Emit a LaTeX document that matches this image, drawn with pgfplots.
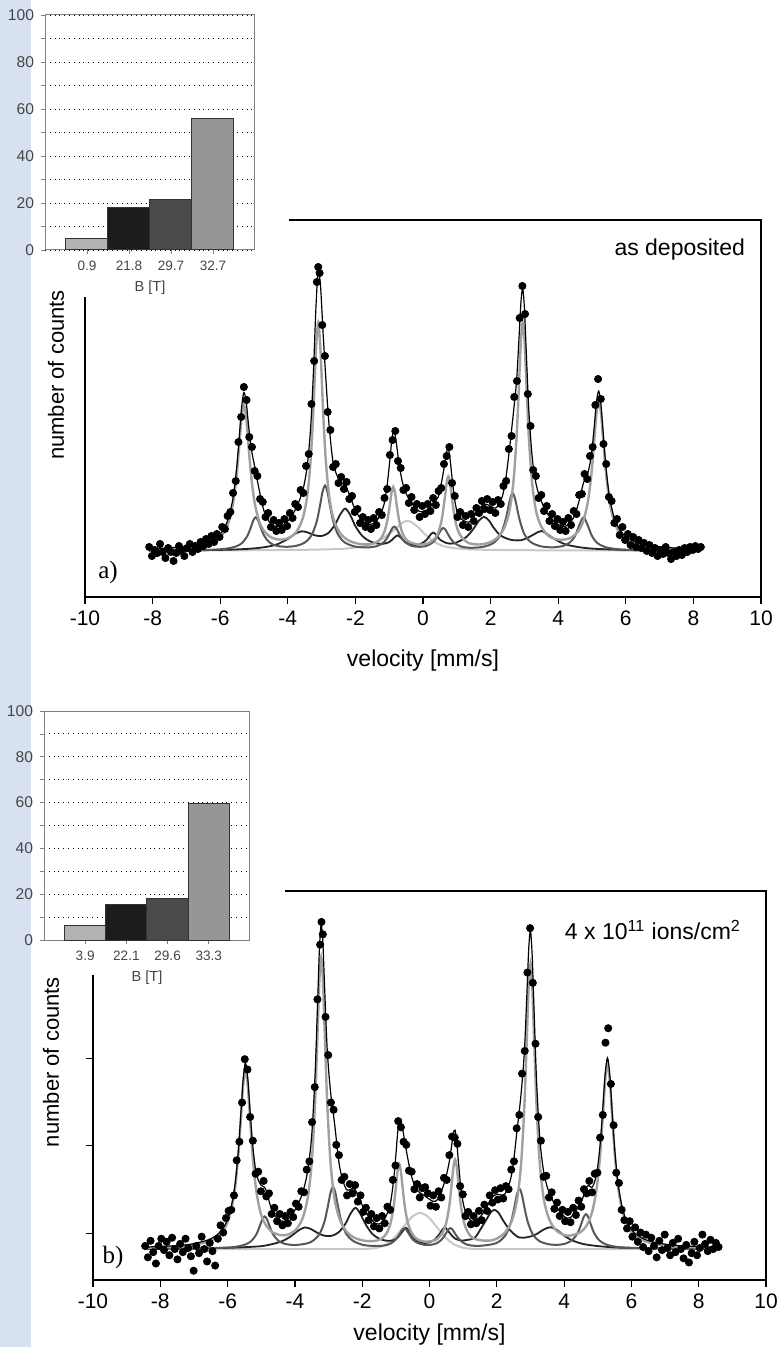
\documentclass[border=0pt]{standalone}
\usepackage{pgfplots}
\pgfplotsset{compat=1.18}
\usepackage{fontspec}
\setmainfont{Liberation Sans}
\newfontfamily\tnr{Liberation Serif}

\definecolor{stripBlue}{RGB}{215,225,240}
\definecolor{gMain}{RGB}{160,160,160}
\definecolor{gLight}{RGB}{200,200,200}
\definecolor{gDark}{RGB}{88,88,88}
\definecolor{gBlack}{RGB}{35,35,35}
\definecolor{barA}{RGB}{178,178,178}
\definecolor{barB}{RGB}{28,28,28}
\definecolor{barC}{RGB}{74,74,74}
\definecolor{barD}{RGB}{150,150,150}
\definecolor{insetTxt}{RGB}{70,70,70}
\definecolor{insetFrame}{RGB}{128,128,128}

\newcommand\fs[1]{\fontsize{#1}{#1}\selectfont}

\pgfplotsset{
  spec/.style={scale only axis, anchor=south west,
    xmin=-10, xmax=10, ymin=0, ymax=377,
    axis line style={line width=0.75pt},
    xtick={-10,-8,...,10}, xtick pos=left, ytick=\empty,
    tick align=outside, major tick length=3.5pt,
    tick style={line width=0.6pt, black},
    /pgf/number format/assume math mode=true,
    x tick label style={font=\fs{10.5}},
    xlabel={velocity [mm/s]},
    xlabel style={font=\fs{11.5}, at={(axis description cs:0.5,0)}, anchor=center},
  },
  inset/.style={scale only axis, anchor=south west,
    xmin=-1, xmax=4, ymin=0, ymax=100,
    ytick={0,20,...,100}, minor ytick={10,30,...,90},
    ymajorgrids, yminorgrids,
    major grid style={dotted, black, line width=0.45pt},
    minor grid style={dotted, black, line width=0.45pt},
    axis line style={insetFrame, line width=0.5pt},
    xtick={0,1,2,3}, tick align=outside,
    major tick length=2pt, minor tick length=2pt,
    tick style={insetFrame, line width=0.4pt},
    xtick pos=left, ytick pos=left,
    /pgf/number format/assume math mode=true,
    y tick label style={font=\fs{7.8}, text=insetTxt},
    x tick label style={font=\fs{6.8}, text=insetTxt},
    xlabel={B [T]},
    xlabel style={font=\fs{7.3}, text=insetTxt, at={(axis description cs:0.5,0)}, anchor=center, yshift=-19pt},
  },
  sbar/.style={ybar, bar width=1, draw=black!80, line width=0.5pt, fill=#1},
  pts/.style={only marks, mark=*, mark size=1.8pt, black},
}

\begin{document}
\begin{tikzpicture}
\path[use as bounding box] (0,0) rectangle (388.5pt,-673.5pt);
\fill[white] (0,0) rectangle (388.5pt,-673.5pt);
\fill[stripBlue] (0,0) rectangle (15.5pt,-673.5pt);

% ---------------- panel a ----------------
\begin{axis}[spec, at={(42.5pt,-298.5pt)}, width=338pt, height=188.5pt,
  xlabel style={yshift=-32pt}]
\addplot[gLight, line width=1pt, smooth] coordinates {(-8.1,46.3)(-4,47)(-2.5,48)(-2,49.5)(-1.6,52)(-1.3,56)(-1.05,62)(-0.85,67)(-0.65,73)(-0.5,76)(-0.35,75)(-0.15,70)(0.05,63)(0.3,56)(0.55,51.5)(0.9,49)(1.5,47.5)(3,46.8)(8.2,46.3)};
\addplot[gBlack, line width=0.9pt, smooth] coordinates {(-8.1,46.4)(-7,46.6)(-6,47.1)(-5.5,47.6)(-5,48.6)(-4.6,50.3)(-4.3,52.9)(-4,58)(-3.8,62.8)(-3.6,65.7)(-3.4,64.4)(-3.2,61.7)(-3,61)(-2.8,64)(-2.6,72.5)(-2.45,82.5)(-2.3,88.4)(-2.15,81.8)(-2,70.9)(-1.8,61.2)(-1.6,56.2)(-1.4,53.8)(-1.2,53.1)(-1,54.9)(-0.85,59.4)(-0.75,61.6)(-0.65,59.1)(-0.5,54.4)(-0.3,52.1)(-0.1,52.7)(0.1,56.9)(0.2,61.4)(0.3,64.5)(0.4,61.7)(0.5,57.4)(0.7,53.9)(0.9,53.5)(1.1,56.2)(1.3,60.5)(1.5,68.5)(1.65,76.1)(1.8,80.2)(1.95,76.5)(2.1,68.9)(2.3,61.4)(2.6,57.2)(2.9,56.8)(3.1,59.3)(3.3,63)(3.5,66)(3.7,62.3)(3.9,57.8)(4.2,52.8)(4.6,49.9)(5,48.4)(5.5,47.6)(6,47.1)(7,46.5)(8.2,46.3)};
\addplot[gDark, line width=1pt, smooth] coordinates {(-8.1,46.3)(-7,46.6)(-6.2,47.3)(-5.75,48.7)(-5.5,51)(-5.35,54.1)(-5.2,60.9)(-5.1,69)(-5.02,76.6)(-4.95,79.7)(-4.88,76.7)(-4.8,69.3)(-4.7,61.4)(-4.55,54.8)(-4.35,51.4)(-4.05,50.2)(-3.75,51.2)(-3.5,54.4)(-3.3,61.7)(-3.15,74.8)(-3.05,90.9)(-2.97,105.5)(-2.9,111.5)(-2.83,105.7)(-2.75,90.9)(-2.65,74.8)(-2.5,61.6)(-2.3,54.2)(-2,50.4)(-1.65,49.6)(-1.35,51)(-1.15,55.1)(-1.02,61.4)(-0.92,68.2)(-0.85,70.3)(-0.78,68.2)(-0.68,61.7)(-0.55,55.4)(-0.35,51.3)(-0.1,50.2)(0.1,51.1)(0.3,54.9)(0.43,60.9)(0.53,67)(0.6,69)(0.67,67)(0.77,60.9)(0.9,54.9)(1.1,50.8)(1.4,49.2)(1.8,50.3)(2.1,54.4)(2.3,62.9)(2.45,78)(2.57,97.1)(2.65,103.9)(2.73,97.3)(2.85,78.4)(3,62.6)(3.2,54.6)(3.5,50.6)(3.85,49.7)(4.15,51.1)(4.35,54.7)(4.5,61.2)(4.63,72.2)(4.75,79.7)(4.87,72)(5,61)(5.15,54.2)(5.4,49.8)(5.8,47.7)(6.5,46.7)(8.2,46.2)};
\addplot[gMain, line width=1.2pt, smooth] coordinates {(-8.1,47.2)(-7.4,48)(-6.8,49.5)(-6.4,52.2)(-6.1,56.9)(-5.9,63.9)(-5.75,74.9)(-5.62,93.5)(-5.52,119.5)(-5.44,150)(-5.37,178.7)(-5.3,192.1)(-5.23,178.9)(-5.16,150.3)(-5.08,120)(-4.98,94.2)(-4.85,76)(-4.7,65.9)(-4.5,59.8)(-4.25,57.4)(-4,58.7)(-3.75,64.9)(-3.55,79.5)(-3.42,102.5)(-3.32,138.8)(-3.24,189)(-3.17,244.8)(-3.1,274.4)(-3.03,245)(-2.96,189)(-2.88,138.5)(-2.78,101.8)(-2.65,78.5)(-2.45,63.7)(-2.2,56.5)(-1.9,53.2)(-1.6,52.6)(-1.4,54.4)(-1.25,58.4)(-1.14,65.4)(-1.05,77.4)(-0.98,92.6)(-0.93,104.5)(-0.88,110)(-0.83,104.5)(-0.78,92.6)(-0.71,77.2)(-0.62,65)(-0.51,57.8)(-0.36,54.4)(-0.1,52.3)(0.15,53.8)(0.36,59)(0.47,66.3)(0.56,78.4)(0.65,100.3)(0.7,114.1)(0.75,120.6)(0.8,114.3)(0.85,100.6)(0.94,78.9)(1.03,66.9)(1.14,59.9)(1.35,54)(1.65,52.5)(1.95,54.4)(2.2,59.4)(2.4,68.8)(2.55,85)(2.67,113.3)(2.77,160.7)(2.85,220.7)(2.9,258.3)(2.95,274.8)(3,258.3)(3.05,220.8)(3.13,160.8)(3.23,113.5)(3.35,85.3)(3.5,70.5)(3.7,61.5)(3.95,57.6)(4.2,57.5)(4.4,59.8)(4.6,66)(4.75,76.9)(4.88,95.7)(4.98,122.2)(5.06,153.6)(5.13,182.8)(5.2,196.5)(5.27,182.6)(5.34,153.3)(5.42,121.8)(5.52,95)(5.65,76)(5.8,64.8)(6,57.4)(6.3,52.5)(6.7,49.7)(7.3,48)(8.2,47.1)};
\addplot[black, line width=0.6pt, smooth] coordinates {(-8.1,48.2)(-7.4,49.4)(-6.8,51.5)(-6.4,54.8)(-6.1,60)(-5.9,67.7)(-5.75,79.5)(-5.62,99.3)(-5.52,126.7)(-5.44,158.3)(-5.37,188.7)(-5.3,204.5)(-5.23,194.8)(-5.16,171.1)(-5.08,148.2)(-4.98,130.6)(-4.85,107.8)(-4.7,85.6)(-4.5,73.1)(-4.25,70.4)(-4,75.9)(-3.75,89)(-3.55,107.6)(-3.42,132.5)(-3.32,171.7)(-3.24,226.1)(-3.17,287.9)(-3.1,326.7)(-3.03,310)(-2.96,266.6)(-2.88,221.2)(-2.78,172.4)(-2.65,132.8)(-2.45,115.2)(-2.3,111.6)(-2.15,100)(-2,86.7)(-1.8,76.3)(-1.6,72.4)(-1.4,75)(-1.25,83.4)(-1.14,94.5)(-1.05,115)(-0.98,137.1)(-0.93,154.6)(-0.88,165.3)(-0.83,162.9)(-0.78,151.8)(-0.71,133.7)(-0.62,116.5)(-0.51,104.5)(-0.36,94.9)(-0.1,85.5)(0.15,87.7)(0.3,94.1)(0.45,99.9)(0.55,115.2)(0.65,134.3)(0.7,145.3)(0.75,147.8)(0.8,138.3)(0.85,122.1)(0.94,96.6)(1.03,82.8)(1.14,77.8)(1.35,74.8)(1.5,80.1)(1.65,87.5)(1.8,92.8)(1.95,91.8)(2.1,89)(2.2,90.4)(2.35,101)(2.45,118.4)(2.55,145.6)(2.67,182.7)(2.77,217.2)(2.85,265)(2.9,296.1)(2.95,308.5)(3,288.9)(3.05,249.3)(3.13,187.6)(3.23,139.9)(3.35,112.2)(3.5,95.9)(3.7,82.3)(3.95,73.6)(4.2,70.5)(4.45,78.9)(4.6,93.8)(4.75,114.4)(4.88,124.2)(4.98,141.7)(5.06,168.1)(5.13,194.2)(5.2,205.9)(5.27,190.5)(5.34,160)(5.42,127.5)(5.52,100)(5.65,80.1)(5.8,68.3)(6,60.3)(6.3,54.7)(6.7,51.4)(7.3,49.3)(8.2,47.9)};
\addplot[pts] coordinates {(-8.10,50)(-8.02,41)(-7.94,47)(-7.86,44)(-7.78,53)(-7.70,45)(-7.62,39)(-7.54,49)(-7.46,45)(-7.38,36)(-7.30,44)(-7.22,51)(-7.14,46)(-7.06,41)(-6.98,49)(-6.90,53)(-6.82,45)(-6.74,51)(-6.66,48)(-6.58,55)(-6.50,51)(-6.42,58)(-6.34,53)(-6.26,61)(-6.18,55)(-6.10,63)(-6.02,60)(-5.94,70)(-5.86,68)(-5.78,81)(-5.70,85)(-5.62,104)(-5.54,116)(-5.46,155)(-5.38,180)(-5.30,210)(-5.22,197)(-5.14,160)(-5.06,150)(-4.98,126)(-4.90,121)(-4.82,98)(-4.74,95)(-4.66,80)(-4.58,84)(-4.50,70)(-4.42,77)(-4.34,66)(-4.26,74)(-4.18,67)(-4.10,78)(-4.02,71)(-3.94,84)(-3.86,79)(-3.78,93)(-3.70,90)(-3.62,107)(-3.54,104)(-3.46,131)(-3.38,143)(-3.30,193)(-3.22,236)(-3.14,315)(-3.10,330)(-3.06,324)(-2.98,272)(-2.90,241)(-2.82,185)(-2.74,167)(-2.66,130)(-2.58,133)(-2.50,114)(-2.42,120)(-2.34,108)(-2.26,115)(-2.18,98)(-2.10,101)(-2.02,85)(-1.94,88)(-1.86,74)(-1.78,80)(-1.70,70)(-1.62,77)(-1.54,68)(-1.46,79)(-1.38,72)(-1.30,85)(-1.22,82)(-1.14,99)(-1.06,108)(-0.98,142)(-0.90,157)(-0.82,166)(-0.74,136)(-0.66,129)(-0.58,107)(-0.50,109)(-0.42,94)(-0.34,100)(-0.26,87)(-0.18,93)(-0.10,80)(-0.02,91)(0.06,83)(0.14,93)(0.22,86)(0.30,99)(0.38,92)(0.46,106)(0.54,109)(0.62,133)(0.70,141)(0.78,150)(0.86,114)(0.94,101)(1.02,80)(1.10,85)(1.18,72)(1.26,81)(1.34,70)(1.42,83)(1.50,76)(1.58,89)(1.66,84)(1.74,96)(1.82,88)(1.90,98)(1.98,87)(2.06,95)(2.14,84)(2.22,97)(2.30,93)(2.38,111)(2.46,116)(2.54,148)(2.62,161)(2.70,200)(2.78,216)(2.86,279)(2.94,311)(3.02,283)(3.10,203)(3.18,171)(3.26,127)(3.34,121)(3.42,99)(3.50,102)(3.58,86)(3.66,91)(3.74,76)(3.82,83)(3.90,71)(3.98,78)(4.06,67)(4.14,75)(4.22,66)(4.30,79)(4.38,72)(4.46,86)(4.54,83)(4.62,102)(4.70,103)(4.78,123)(4.86,118)(4.94,141)(5.02,150)(5.10,192)(5.18,218)(5.26,198)(5.34,153)(5.42,133)(5.50,100)(5.58,96)(5.66,74)(5.74,78)(5.82,62)(5.90,70)(5.98,57)(6.06,63)(6.14,52)(6.22,60)(6.30,50)(6.38,57)(6.46,49)(6.54,54)(6.62,46)(6.70,52)(6.78,44)(6.86,49)(6.94,41)(7.02,47)(7.10,43)(7.18,50)(7.26,44)(7.34,38)(7.42,45)(7.50,41)(7.58,47)(7.66,42)(7.74,49)(7.82,45)(7.90,50)(7.98,47)(8.06,51)(8.14,48)(8.22,50)};
\end{axis}

% ---------------- panel b ----------------
\begin{axis}[spec, at={(46.5pt,-640pt)}, width=336.5pt, height=194.5pt,
  ytick={45,130,215,300}, yticklabels={}, ytick pos=left,
  xlabel style={yshift=-27.5pt}]
\addplot[gLight, line width=1pt, smooth] coordinates {(-8.45,30)(-2.5,30)(-1.78,30.4)(-1.53,31.5)(-1.28,34.7)(-1.03,41.4)(-0.78,51.2)(-0.53,60.9)(-0.28,65)(-0.03,60.9)(0.22,51.2)(0.47,41.4)(0.72,34.7)(0.97,31.5)(1.22,30.4)(2,30)(8.6,30)};
\addplot[gBlack, line width=0.9pt, smooth] coordinates {(-8.45,30.4)(-7,30.6)(-6,31.2)(-5.5,31.8)(-5,32.8)(-4.7,34.6)(-4.4,37.4)(-4.15,41.7)(-3.9,47.9)(-3.7,51)(-3.5,49)(-3.3,45.1)(-3.1,42.8)(-2.9,42.9)(-2.7,46.3)(-2.5,54.4)(-2.35,64.1)(-2.2,70)(-2.05,63.8)(-1.9,54.1)(-1.7,44.7)(-1.5,40.2)(-1.3,38.2)(-1.1,38.3)(-0.95,40.9)(-0.82,46.4)(-0.7,50.6)(-0.58,45.9)(-0.45,40)(-0.25,36.3)(-0.05,36.2)(0.15,39)(0.3,44.6)(0.45,50.9)(0.6,45.6)(0.75,40.3)(0.95,38.3)(1.15,39)(1.35,41.1)(1.55,51)(1.7,59.1)(1.82,65.5)(1.93,68)(2.05,65.2)(2.2,57.1)(2.4,48)(2.65,41.4)(2.9,41.4)(3.15,44)(3.4,49)(3.6,51.2)(3.8,48.2)(4.05,41.9)(4.3,37.6)(4.6,34.7)(5,32.9)(5.5,31.6)(6,31.1)(7,30.6)(8.6,30.3)};
\addplot[gDark, line width=1pt, smooth] coordinates {(-8.45,30.3)(-7,30.5)(-6.2,31.2)(-5.8,32)(-5.5,34.1)(-5.3,37.6)(-5.15,44)(-5.05,51.7)(-4.97,58.7)(-4.9,61.6)(-4.83,58.8)(-4.75,52)(-4.65,44.4)(-4.5,38.3)(-4.3,35.1)(-4,33.9)(-3.65,35.4)(-3.47,37.9)(-3.27,44.5)(-3.12,56.7)(-3.02,71.5)(-2.94,84.9)(-2.87,90.4)(-2.8,85.1)(-2.72,71.5)(-2.62,56.7)(-2.47,44.5)(-2.27,37.9)(-1.97,34)(-1.65,33)(-1.35,33.4)(-1.15,35.4)(-1,39.4)(-0.9,44)(-0.82,48.4)(-0.75,50.1)(-0.68,48.3)(-0.6,44.1)(-0.5,39.3)(-0.35,35.9)(-0.15,34.1)(0.05,34.2)(0.22,35.7)(0.37,39.5)(0.47,44.2)(0.55,48.5)(0.62,50.3)(0.69,48.7)(0.77,44.4)(0.87,40)(1.02,35.7)(1.22,33.5)(1.52,33.2)(1.87,34.7)(2.07,37.3)(2.27,44)(2.42,55.9)(2.52,70.2)(2.6,83.3)(2.67,88.7)(2.74,83.5)(2.82,70.5)(2.92,56.3)(3.07,44.1)(3.27,37.6)(3.57,34.5)(3.85,34.2)(4.05,35.4)(4.25,38.9)(4.4,45.4)(4.5,53.4)(4.58,60.9)(4.65,63.8)(4.72,60.8)(4.8,53.2)(4.9,45.1)(5.05,38.3)(5.25,34.4)(5.55,32.2)(6,31.2)(7,30.5)(8.6,30.2)};
\addplot[gMain, line width=1.2pt, smooth] coordinates {(-8.45,31.2)(-7.7,32.1)(-7.1,33.6)(-6.57,37.3)(-6.27,42.8)(-6.07,51.2)(-5.92,64.2)(-5.79,86.4)(-5.69,117.5)(-5.61,154.2)(-5.54,188.1)(-5.47,204.1)(-5.4,188.2)(-5.33,154.4)(-5.25,117.8)(-5.15,87)(-5.02,65.1)(-4.87,53.7)(-4.67,46.4)(-4.42,43.5)(-4.22,43.9)(-3.97,48.8)(-3.77,59.9)(-3.62,79.5)(-3.5,114)(-3.4,172.3)(-3.32,246.4)(-3.27,292.4)(-3.22,312.5)(-3.17,292.3)(-3.12,246.2)(-3.04,171.9)(-2.94,113.3)(-2.82,78.4)(-2.67,59)(-2.47,47.1)(-2.22,40.8)(-1.9,37.9)(-1.6,38)(-1.42,40.2)(-1.27,45.5)(-1.16,54.7)(-1.07,70.2)(-1,90)(-0.95,105.4)(-0.9,112.5)(-0.85,105.4)(-0.8,90.1)(-0.73,70.3)(-0.64,54.8)(-0.53,45.6)(-0.38,39.8)(-0.15,37.2)(0.1,38)(0.24,40)(0.39,46)(0.5,55.8)(0.59,72.2)(0.66,93.1)(0.71,109.3)(0.76,116.9)(0.81,109.4)(0.86,93.4)(0.93,72.6)(1.02,56.4)(1.13,46.9)(1.28,40.8)(1.55,38.4)(1.85,38.4)(2,40.1)(2.25,46.2)(2.45,57.8)(2.6,77.4)(2.72,111.6)(2.82,169)(2.9,241.9)(2.95,287.1)(3,307)(3.05,287.1)(3.1,242)(3.18,169.2)(3.28,111.8)(3.4,77.8)(3.55,59.5)(3.75,48.5)(4,43.6)(4.19,43.1)(4.49,46.4)(4.69,54.1)(4.84,67)(4.97,89.3)(5.07,120.8)(5.15,158.2)(5.22,192.8)(5.29,209)(5.36,192.5)(5.43,157.7)(5.51,120.1)(5.61,88.3)(5.74,65.6)(5.89,52.1)(6.09,43.5)(6.39,37.8)(6.8,34.5)(7.4,32.5)(8.6,31.2)};
\addplot[black, line width=0.6pt, smooth] coordinates {(-8.45,31.9)(-7.7,33)(-7.1,34.7)(-6.57,39)(-6.27,45)(-6.07,53.7)(-5.92,67.2)(-5.79,90)(-5.69,121.7)(-5.61,159.1)(-5.54,193.6)(-5.47,210.4)(-5.4,195.6)(-5.33,163.3)(-5.25,129.4)(-5.15,103.5)(-5.02,92.4)(-4.87,88.1)(-4.67,66.4)(-4.42,57.4)(-4.22,58.4)(-3.97,69.4)(-3.77,84.7)(-3.62,105.9)(-3.5,140.5)(-3.4,199.4)(-3.32,274.4)(-3.27,322)(-3.22,344.5)(-3.17,327.8)(-3.12,286.4)(-3.04,223.4)(-2.94,182.2)(-2.82,151.4)(-2.67,109.6)(-2.47,87.8)(-2.22,87.8)(-1.9,65.8)(-1.6,54.7)(-1.42,55.7)(-1.27,63.4)(-1.16,74.8)(-1.07,95.7)(-1,120.9)(-0.95,141.5)(-0.9,154.9)(-0.85,155)(-0.8,146.7)(-0.73,133.3)(-0.64,116.8)(-0.53,100)(-0.38,87.6)(-0.15,81.7)(0.1,76.3)(0.24,78)(0.39,89.2)(0.5,101.3)(0.59,115.1)(0.66,130.9)(0.71,142.4)(0.76,145.2)(0.81,133.6)(0.86,114.3)(0.93,89.9)(1.02,71.6)(1.13,61.9)(1.28,56.8)(1.55,62.8)(1.85,79.5)(2,83)(2.25,83.7)(2.45,103.9)(2.6,144.5)(2.72,180)(2.82,221.6)(2.9,282)(2.95,322.1)(3,338.2)(3.05,315.5)(3.1,268.4)(3.18,194)(3.28,136.6)(3.4,103.6)(3.55,85.1)(3.75,72)(4,61.6)(4.19,60.6)(4.49,74.4)(4.69,91.1)(4.84,90.1)(4.97,103.5)(5.07,131.2)(5.15,166.5)(5.22,199.9)(5.29,215.2)(5.36,198)(5.43,162.5)(5.51,124.4)(5.61,92)(5.74,68.7)(5.89,54.8)(6.09,45.7)(6.39,39.5)(6.8,35.8)(7.4,33.4)(8.6,31.7)};
\addplot[pts] coordinates {(-8.45,33)(-8.37,22)(-8.29,38)(-8.21,27)(-8.13,16)(-8.05,33)(-7.97,40)(-7.89,29)(-7.81,37)(-7.73,24)(-7.65,41)(-7.57,30)(-7.49,20)(-7.41,35)(-7.33,27)(-7.25,40)(-7.17,31)(-7.09,23)(-7.01,9)(-6.93,33)(-6.85,26)(-6.77,42)(-6.69,30)(-6.61,18)(-6.53,36)(-6.45,28)(-6.37,14)(-6.29,40)(-6.21,53)(-6.13,46)(-6.05,60)(-5.97,67)(-5.89,68)(-5.81,82)(-5.73,116)(-5.65,134)(-5.57,172)(-5.49,214)(-5.41,204)(-5.33,158)(-5.25,135)(-5.17,103)(-5.09,105)(-5.01,86)(-4.93,96)(-4.85,81)(-4.77,84)(-4.69,64)(-4.61,70)(-4.53,57)(-4.45,64)(-4.37,53)(-4.29,62)(-4.21,55)(-4.13,66)(-4.05,61)(-3.97,74)(-3.89,71)(-3.81,86)(-3.73,85)(-3.65,107)(-3.57,115)(-3.49,153)(-3.41,187)(-3.33,272)(-3.25,325)(-3.21,347)(-3.17,335)(-3.09,255)(-3.01,218)(-2.93,172)(-2.85,165)(-2.77,131)(-2.69,121)(-2.61,97)(-2.53,100)(-2.45,82)(-2.37,93)(-2.29,84)(-2.21,92)(-2.13,76)(-2.05,82)(-1.97,66)(-1.89,70)(-1.81,58)(-1.73,64)(-1.65,52)(-1.57,60)(-1.49,50)(-1.41,62)(-1.33,55)(-1.25,71)(-1.17,68)(-1.09,97)(-1.01,111)(-0.93,154)(-0.85,148)(-0.77,134)(-0.69,131)(-0.61,106)(-0.53,105)(-0.45,88)(-0.37,93)(-0.29,80)(-0.21,89)(-0.13,90)(-0.05,84)(0.03,72)(0.11,82)(0.19,71)(0.27,86)(0.35,80)(0.43,99)(0.51,97)(0.59,121)(0.67,139)(0.75,138)(0.83,132)(0.91,91)(0.99,83)(1.07,62)(1.15,66)(1.23,54)(1.31,62)(1.39,55)(1.47,67)(1.55,58)(1.63,73)(1.71,67)(1.79,82)(1.87,75)(1.95,87)(2.03,78)(2.11,89)(2.19,79)(2.27,91)(2.35,88)(2.43,107)(2.51,115)(2.59,147)(2.67,160)(2.75,200)(2.83,222)(2.91,298)(2.99,341)(3.07,288)(3.15,229)(3.23,158)(3.31,135)(3.39,100)(3.47,101)(3.55,80)(3.63,85)(3.71,69)(3.79,75)(3.87,62)(3.95,68)(4.03,57)(4.11,66)(4.19,56)(4.27,70)(4.35,63)(4.43,77)(4.51,71)(4.59,88)(4.67,84)(4.75,96)(4.83,85)(4.91,103)(4.99,104)(5.07,138)(5.15,160)(5.23,230)(5.31,244)(5.39,190)(5.47,150)(5.55,104)(5.63,94)(5.71,68)(5.79,58)(5.87,50)(5.95,57)(6.03,42)(6.11,51)(6.19,37)(6.27,46)(6.35,32)(6.43,44)(6.51,28)(6.59,41)(6.67,33)(6.75,22)(6.83,38)(6.91,29)(6.99,44)(7.07,31)(7.15,24)(7.23,36)(7.31,27)(7.39,40)(7.47,30)(7.55,21)(7.63,34)(7.71,17)(7.79,26)(7.87,37)(7.95,24)(8.03,31)(8.11,44)(8.19,35)(8.27,28)(8.35,39)(8.43,30)(8.51,36)(8.59,32)};
\end{axis}

% white panels behind the insets
\fill[white] (15.5pt,0) rectangle (144.5pt,-148.5pt);
\fill[white] (15.5pt,-345pt) rectangle (142.5pt,-487.5pt);

% ---------------- inset a ----------------
\begin{axis}[inset, at={(22.5pt,-125pt)}, width=105pt, height=117.5pt,
  xticklabels={0.9,21.8,29.7,32.7}]
\addplot[sbar=barA] coordinates {(0,4.9)};
\addplot[sbar=barB] coordinates {(1,18.0)};
\addplot[sbar=barC] coordinates {(2,21.3)};
\addplot[sbar=barD] coordinates {(3,55.8)};
\end{axis}

% ---------------- inset b ----------------
\begin{axis}[inset, at={(22pt,-470pt)}, width=103pt, height=114.5pt,
  xticklabels={3.9,22.1,29.6,33.3}]
\addplot[sbar=barA] coordinates {(0,6.5)};
\addplot[sbar=barB] coordinates {(1,15.6)};
\addplot[sbar=barC] coordinates {(2,18.2)};
\addplot[sbar=barD] coordinates {(3,59.7)};
\end{axis}

% labels
\node[font=\fs{11.5}, anchor=east] at (376pt,-125pt) {as deposited};
\node[font=\fs{11.5}, anchor=east] at (374pt,-465pt) {4 x 10\textsuperscript{11} ions/cm\textsuperscript{2}};
\node[font=\tnr\fs{12.5}] at (54pt,-286pt) {a)};
\node[font=\tnr\fs{12.5}] at (56.5pt,-628.5pt) {b)};
\node[font=\fs{11}, rotate=90] at (28pt,-187.5pt) {number of counts};
\node[font=\fs{11}, rotate=90] at (25.5pt,-531pt) {number of counts};
\end{tikzpicture}
\end{document}
